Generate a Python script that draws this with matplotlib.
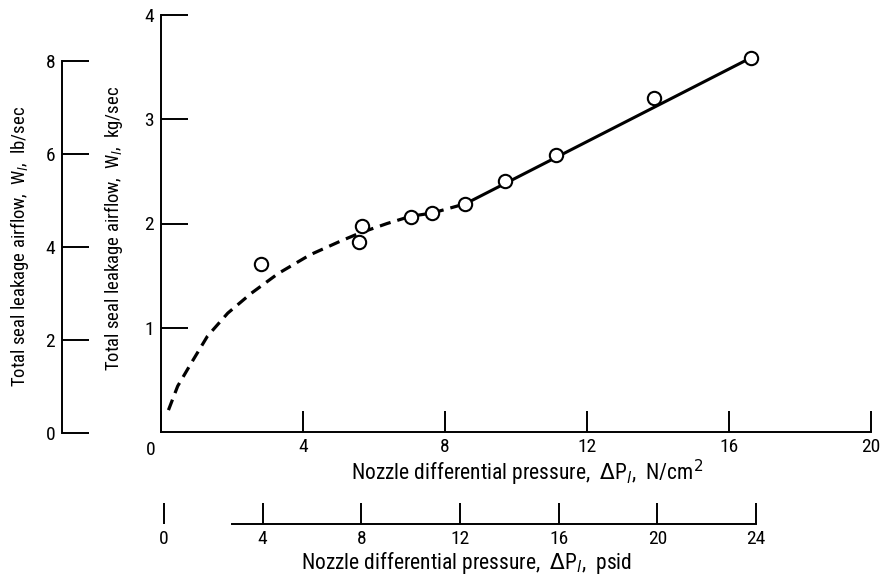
import matplotlib
matplotlib.use("Agg")
import matplotlib.pyplot as plt
from matplotlib import font_manager
from matplotlib.transforms import ScaledTranslation

# ---------------- data ----------------
pressure_ncm2 = [2.82, 5.58, 5.66, 7.04, 7.63, 8.57, 9.70, 11.13, 13.88, 16.62]
airflow_kgs = [1.61, 1.82, 1.98, 2.06, 2.10, 2.19, 2.41, 2.66, 3.20, 3.59]

# faired curve (dashed portion)
dashed_x = [0.21, 0.47, 0.85, 1.31, 1.88, 2.54, 3.30, 4.20, 5.05, 5.61, 6.37, 7.04, 7.64, 8.58]
dashed_y = [0.21, 0.44, 0.66, 0.92, 1.14, 1.33, 1.52, 1.70, 1.83, 1.91, 2.00, 2.07, 2.10, 2.19]
# straight (solid) portion
solid_x = [8.58, 16.62]
solid_y = [2.19, 3.59]

x_ticks_ncm2 = [0, 4, 8, 12, 16, 20]
y_ticks_kgs = [1, 2, 3, 4]
y_ticks_lbs = [0, 2, 4, 6, 8]
x_ticks_psid = [0, 4, 8, 12, 16, 20, 24]

# ---------------- fonts ----------------
def pick_font():
    for name in ["Roboto Condensed", "Liberation Sans Narrow", "DejaVu Sans Condensed"]:
        try:
            font_manager.findfont(font_manager.FontProperties(family=name), fallback_to_default=False)
            return name
        except Exception:
            pass
    return "Liberation Sans"

FONT = pick_font()
plt.rcParams["font.family"] = [FONT, "DejaVu Sans"]
plt.rcParams["mathtext.fontset"] = "dejavusans"

W, H = 882, 579
fig = plt.figure(figsize=(W / 100, H / 100), dpi=100)

def fx(px):
    return px / W

def fy(py):
    return 1 - py / H

FS = 14
BLK = "black"
LW_SPINE = 1.4

# ---------------- main axes ----------------
x0p, x1p = 161, 871
y0p, y1p = 432, 15
ax = fig.add_axes([fx(x0p), fy(y0p), (x1p - x0p) / W, (y0p - y1p) / H])
ax.set_xlim(0, 20)
ax.set_ylim(0, 4)
for s in ["top", "right"]:
    ax.spines[s].set_visible(False)
for s in ["left", "bottom"]:
    ax.spines[s].set_linewidth(LW_SPINE)
ax.set_xticks(x_ticks_ncm2)
ax.set_xticklabels([""] + [str(v) for v in x_ticks_ncm2[1:]])
ax.set_yticks(y_ticks_kgs)
ax.set_yticklabels([str(v) for v in y_ticks_kgs])
ax.tick_params(axis="x", direction="in", length=15, width=LW_SPINE, pad=4, labelsize=FS)
ax.tick_params(axis="y", direction="in", length=19.5, width=LW_SPINE, pad=5, labelsize=FS)
ax.patch.set_alpha(0)

# corner zero label
ax.text(0, 0, "0", fontsize=FS, ha="center", va="center",
        transform=ax.transData + ScaledTranslation(-0.10, -0.18, fig.dpi_scale_trans))

ax.plot(dashed_x, dashed_y, color=BLK, lw=2.3, dashes=(3.5, 2.2),
        dash_capstyle="butt", zorder=2)
ax.plot(solid_x, solid_y, color=BLK, lw=2.2, zorder=2)
ax.plot(pressure_ncm2, airflow_kgs, linestyle="none", marker="o", markersize=9.6,
        markerfacecolor="white", markeredgecolor=BLK, markeredgewidth=1.5, zorder=3,
        clip_on=False)

# ---------------- secondary left axis (lb/sec) ----------------
ax2 = fig.add_axes([fx(62), fy(433), 30 / W, (433 - 61) / H])
ax2.set_ylim(0, 8)
ax2.set_xlim(0, 1)
for s in ["top", "right", "bottom"]:
    ax2.spines[s].set_visible(False)
ax2.spines["left"].set_linewidth(LW_SPINE)
ax2.set_xticks([])
ax2.set_yticks(y_ticks_lbs)
ax2.set_yticklabels([str(v) for v in y_ticks_lbs])
ax2.tick_params(axis="y", direction="in", length=19.5, width=LW_SPINE, pad=5, labelsize=FS)
ax2.patch.set_alpha(0)

# ---------------- secondary bottom axis (psid) ----------------
ax3 = fig.add_axes([fx(164), fy(524), (756 - 164) / W, 0.02])
ax3.set_xlim(0, 24)
ax3.set_ylim(0, 1)
for s in ["top", "right", "left"]:
    ax3.spines[s].set_visible(False)
ax3.spines["bottom"].set_linewidth(LW_SPINE)
ax3.spines["bottom"].set_bounds(2.75, 24)
ax3.set_yticks([])
ax3.set_xticks(x_ticks_psid)
ax3.set_xticklabels([str(v) for v in x_ticks_psid])
ax3.tick_params(axis="x", direction="in", length=15, width=LW_SPINE, pad=4, labelsize=FS)
ax3.patch.set_alpha(0)

# ---------------- axis titles ----------------
fig.text(fx(527), fy(473), "Nozzle differential pressure,  $\\Delta$P$_{l}$,  N/cm$^{2}$",
         fontsize=15.5, ha="center", va="center")
fig.text(fx(466), fy(563), "Nozzle differential pressure,  $\\Delta$P$_{l}$,  psid",
         fontsize=15.5, ha="center", va="center")
fig.text(fx(20), fy(246), "Total seal leakage airflow,  W$_{l}$,  lb/sec",
         fontsize=13.5, ha="center", va="center", rotation=90)
fig.text(fx(114), fy(228), "Total seal leakage airflow,  W$_{l}$,  kg/sec",
         fontsize=13.5, ha="center", va="center", rotation=90)

fig.savefig("out.png", dpi=100)
